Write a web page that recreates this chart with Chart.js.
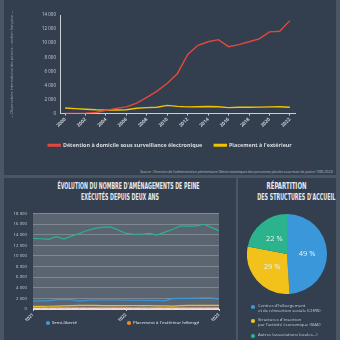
<!DOCTYPE html>
<html><head><meta charset="utf-8">
<script src="https://cdn.jsdelivr.net/npm/chart.js@4.4.1/dist/chart.umd.min.js"></script>
<style>
html,body{margin:0;padding:0;}
body{width:340px;height:340px;background:#4b5665;position:relative;overflow:hidden;font-family:'Open Sans','Noto Sans',sans-serif;}
.panel{position:absolute;background:#333f4f;}
canvas{position:absolute;}
.t{position:absolute;white-space:nowrap;color:#dfe3e8;}
.title{font-family:'DejaVu Sans Condensed','Liberation Sans Narrow',sans-serif;font-weight:bold;font-size:8px;color:#e6e9ed;letter-spacing:0;transform-origin:center center;text-align:center;}
.lg{position:absolute;font-size:4.3px;color:#c9d0d8;line-height:5.6px;white-space:nowrap;}
.dot{position:absolute;width:3.6px;height:3.6px;border-radius:50%;}
</style></head>
<body>
<div class="panel" style="left:4px;top:0;width:332px;height:175px"></div>
<div class="panel" style="left:4px;top:178px;width:232px;height:162px"></div>
<div class="panel" style="left:238px;top:178px;width:98px;height:162px"></div>

<canvas id="c1" width="332" height="158" style="left:4px;top:0;width:332px;height:158px"></canvas>
<div class="t" id="src" style="right:7px;top:169px;font-size:3.3px;color:#b9c0c8;">Source : Direction de l'administration pénitentiaire (Séries statistiques des personnes placées sous main de justice 1980-2022)</div>

<div class="t title" style="left:20px;width:200px;top:182px;"><span id="tl1" style="display:inline-block">ÉVOLUTION DU NOMBRE D'AMÉNAGEMENTS DE PEINE</span></div>
<div class="t title" style="left:20px;width:200px;top:193px;"><span id="tl2" style="display:inline-block">EXÉCUTÉS DEPUIS DEUX ANS</span></div>
<div class="t title" style="left:238px;width:98px;top:182px;"><span id="tr1" style="display:inline-block">RÉPARTITION</span></div>
<div class="t title" style="left:238px;width:98px;top:193px;"><span id="tr2" style="display:inline-block">DES STRUCTURES D'ACCUEIL</span></div>

<canvas id="c2" width="232" height="116" style="left:4px;top:205px;width:232px;height:116px"></canvas>
<div class="dot" style="left:46px;top:321px;background:#3a97d9"></div>
<div class="lg" style="left:52px;top:320px;font-weight:600;">Semi-liberté</div>
<div class="dot" style="left:127px;top:321px;background:#f0862a"></div>
<div class="lg" style="left:133px;top:320px;font-weight:600;">Placement à l'extérieur hébergé</div>

<canvas id="c3" width="80" height="80" style="left:247px;top:214px;width:80px;height:80px"></canvas>
<div class="dot" style="left:251px;top:305px;background:#3a97d9"></div>
<div class="lg" style="left:258px;top:302.5px;">Centres d'hébergement<br>et de réinsertion sociale (CHRS)</div>
<div class="dot" style="left:251px;top:319px;background:#f2c21b"></div>
<div class="lg" style="left:258px;top:316.5px;">Structures d'insertion<br>par l'activité économique (SIAE)</div>
<div class="dot" style="left:251px;top:334px;background:#2bb38e"></div>
<div class="lg" style="left:258px;top:331.5px;">Autres (associations locales...)</div>

<script>
// ---- Top chart data ----
const years = ['2000','2001','2002','2003','2004','2005','2006','2007','2008','2009','2010','2011','2012','2013','2014','2015','2016','2017','2018','2019','2020','2021','2022'];
const surveillance = [10,20,60,150,450,750,950,1500,2300,3200,4300,5700,8400,9700,10200,10500,9500,9800,10200,10600,11600,11700,13200];
const placementExt = [800,700,620,540,500,520,540,760,850,900,1170,1020,960,980,1000,980,850,900,900,920,950,970,900];
const seriesNamesTop = ['Détention à domicile sous surveillance électronique','Placement à l\'extérieur'];
const yTicksTop = [0,2000,4000,6000,8000,10000,12000,14000];

// ---- Bottom-left chart data ----
const months = ['2021-01','2021-02','2021-03','2021-04','2021-05','2021-06','2021-07','2021-08','2021-09','2021-10','2021-11','2021-12','2022-01','2022-02','2022-03','2022-04','2022-05','2022-06','2022-07','2022-08','2022-09','2022-10','2022-11','2022-12','2023-01'];
const monthTickLabels = ['2021','','','','','','','','','','','','2022','','','','','','','','','','','','2023'];
const ddse = [13340,13250,13150,13650,13200,13800,14250,14800,15200,15450,15500,14900,14250,14100,14100,14250,13950,14500,15000,15650,15650,15650,15980,15400,14780];
const semiLiberte = [1500,1520,1550,1750,1800,1750,1500,1650,1700,1700,1700,1700,1650,1650,1650,1600,1600,1550,1950,2000,2000,2050,2100,2100,1850];
const placementNonHeberge = [500,500,520,550,580,620,680,700,680,650,650,640,640,660,650,620,600,580,560,640,680,700,700,690,680];
const placementHeberge = [300,300,290,300,310,300,290,300,310,300,300,290,300,300,290,280,290,300,300,310,300,300,310,300,300];
const liberationContrainte = [90,90,100,100,110,100,100,90,100,110,100,100,90,100,100,110,100,100,90,100,110,100,100,100,90];
const seriesNamesBottom = ['Détention à domicile sous surveillance électronique','Semi-liberté','Placement à l\'extérieur non hébergé','Placement à l\'extérieur hébergé','Libération sous contrainte'];

// ---- Pie data ----
const pieLabels = ['Centres d\'hébergement et de réinsertion sociale (CHRS)','Structures d\'insertion par l\'activité économique (SIAE)','Autres (associations locales...)'];
const pieValues = [49,29,22];

const fmt = v => String(v).replace(/\B(?=(\d{3})+(?!\d))/g,' ');
const FONT = "'Open Sans','Noto Sans',sans-serif";

// fit condensed titles
[['tl1',142],['tl2',78],['tr1',40],['tr2',78]].forEach(([id,w])=>{
  const el=document.getElementById(id); const r=el.getBoundingClientRect().width;
  el.style.transform='scaleX('+(w/r)+')';
});

new Chart(document.getElementById('c1'), {
  type:'line',
  data:{labels:years, datasets:[
    {label:seriesNamesTop[0], data:surveillance, borderColor:'#e5483b', backgroundColor:'#e5483b', borderWidth:1.4, pointRadius:0, tension:0},
    {label:seriesNamesTop[1], data:placementExt, borderColor:'#f2c300', backgroundColor:'#f2c300', borderWidth:1.4, pointRadius:0, tension:0}
  ]},
  options:{
    responsive:false, animation:false, devicePixelRatio:1,
    layout:{padding:{top:15,right:0,left:0,bottom:0}},
    plugins:{
      tooltip:{enabled:false},
      legend:{position:'bottom', labels:{boxWidth:12, boxHeight:1.5, padding:12, color:'#d8dde3', font:{family:FONT, size:5.4, weight:'bold'}}}
    },
    scales:{
      x:{offset:true,
        grid:{display:true, drawOnChartArea:false, drawTicks:true, tickLength:2, color:'#c9ced4'},
        border:{display:true, color:'#c9ced4', width:1},
        ticks:{autoSkip:false, maxRotation:45, minRotation:45, padding:1, color:'#c9ced4', font:{family:FONT, size:4.8, weight:'bold'},
          callback:(v,i)=> i%2===0 ? years[i] : null},
        afterFit:s=>{s.height=17;}
      },
      y:{min:0,max:14000,
        afterBuildTicks:s=>{s.ticks=yTicksTop.map(v=>({value:v}));},
        grid:{display:false, drawTicks:false},
        border:{display:true, color:'#c9ced4', width:1},
        ticks:{padding:4, color:'#c9ced4', font:{family:FONT, size:4.5}, callback:v=>fmt(v)},
        title:{display:true, text:'— Observatoire international des prisons – section française —', color:'#9aa3ad', font:{family:FONT, size:3.7}, padding:{top:6,bottom:0}},
        afterFit:s=>{s.width=56;}
      },
      ySpace:{position:'right', min:0, max:14000,
        ticks:{display:false}, grid:{display:false, drawTicks:false}, border:{display:false},
        afterFit:s=>{s.width=41;}
      }
    }
  }
});

const areaBg = {id:'areaBg', beforeDraw(c){const a=c.chartArea; const x=c.ctx; x.save(); x.fillStyle='#5b6572'; x.fillRect(a.left,a.top,a.right-a.left,a.bottom-a.top); x.restore();}};

new Chart(document.getElementById('c2'), {
  type:'line',
  data:{labels:months, datasets:[
    {label:seriesNamesBottom[0], data:ddse, borderColor:'#2bb38e', borderWidth:1.2, pointRadius:0, tension:0},
    {label:seriesNamesBottom[1], data:semiLiberte, borderColor:'#3a97d9', borderWidth:1.2, pointRadius:0, tension:0},
    {label:seriesNamesBottom[2], data:placementNonHeberge, borderColor:'#e8c020', borderWidth:1.2, pointRadius:0, tension:0},
    {label:seriesNamesBottom[3], data:placementHeberge, borderColor:'#f0862a', borderWidth:1.2, pointRadius:0, tension:0},
    {label:seriesNamesBottom[4], data:liberationContrainte, borderColor:'#f4d6d0', borderWidth:1, pointRadius:0, tension:0}
  ]},
  plugins:[areaBg],
  options:{
    responsive:false, animation:false, devicePixelRatio:1,
    layout:{padding:{top:8,right:17,left:0,bottom:0}},
    plugins:{legend:{display:false}, tooltip:{enabled:false}},
    scales:{
      x:{offset:false,
        grid:{display:true, drawOnChartArea:false, drawTicks:true, tickLength:2, color:'#c9ced4'},
        border:{display:true, color:'#dcdfe3', width:1},
        ticks:{autoSkip:false, maxRotation:45, minRotation:45, padding:1, color:'#c9ced4', font:{family:FONT, size:4.5, weight:'bold'},
          callback:(v,i)=> monthTickLabels[i] ? monthTickLabels[i] : null},
        afterFit:s=>{s.height=12;}
      },
      y:{min:0,max:18000,
        ticks:{stepSize:2000, padding:6, color:'#c9ced4', font:{family:FONT, size:4.3}, callback:v=>fmt(v)},
        grid:{color:'#7f8892', lineWidth:1, drawTicks:false},
        border:{display:false},
        afterFit:s=>{s.width=29;}
      }
    }
  }
});

const pieText = {id:'pieText', afterDatasetsDraw(c){
  const x=c.ctx; x.save(); x.fillStyle='#e9f1ee'; x.font="7.5px "+FONT; x.textAlign='center'; x.textBaseline='middle';
  c.getDatasetMeta(0).data.forEach((arc,i)=>{const p=arc.tooltipPosition(); x.fillText(pieValues[i]+' %', p.x, p.y);});
  x.restore();
}};

new Chart(document.getElementById('c3'), {
  type:'pie',
  data:{labels:pieLabels, datasets:[{data:pieValues, backgroundColor:['#3a97d9','#f2c21b','#2bb38e'], borderWidth:0}]},
  plugins:[pieText],
  options:{responsive:false, animation:false, devicePixelRatio:1, layout:{padding:0},
    plugins:{legend:{display:false}, tooltip:{enabled:false}}}
});
</script>
</body></html>
